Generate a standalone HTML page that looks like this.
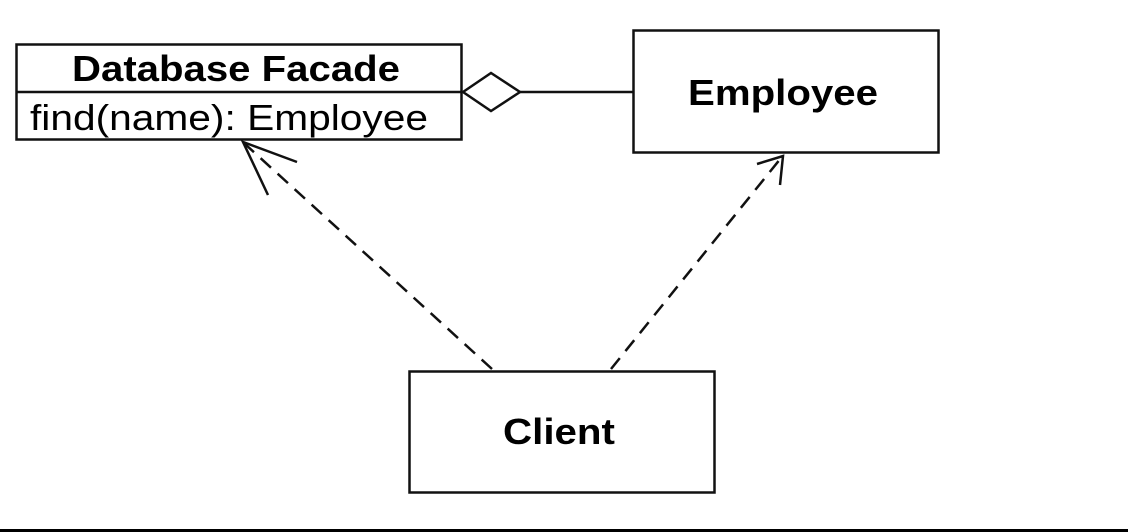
<!DOCTYPE html>
<html><head><style>body{margin:0;background:#fff}svg{display:block}text{font-family:"Liberation Sans",Arial,sans-serif;fill:#000}</style></head><body>
<svg width="1128" height="532" viewBox="0 0 1128 532">
<rect x="0" y="0" width="1128" height="532" fill="#fff"/>
<rect x="16.5" y="44.5" width="445" height="95" fill="#fff" stroke="#111" stroke-width="2.5"/>
<line x1="16" y1="92" x2="462" y2="92" stroke="#111" stroke-width="2.5"/>
<text x="72" y="81" font-size="36" font-weight="bold" textLength="328" lengthAdjust="spacingAndGlyphs">Database Facade</text>
<text x="30" y="130" font-size="36" textLength="398" lengthAdjust="spacingAndGlyphs">find(name): Employee</text>
<polygon points="463,92 491,73 520,92 491,111" fill="#fff" stroke="#111" stroke-width="2.5"/>
<line x1="520" y1="92" x2="633" y2="92" stroke="#111" stroke-width="2.5"/>
<rect x="633.5" y="30.5" width="305" height="122" fill="#fff" stroke="#111" stroke-width="2.5"/>
<text x="688" y="105" font-size="36" font-weight="bold" textLength="190" lengthAdjust="spacingAndGlyphs">Employee</text>
<rect x="409.5" y="371.5" width="305" height="121" fill="#fff" stroke="#111" stroke-width="2.5"/>
<text x="503" y="444" font-size="36" font-weight="bold" textLength="112" lengthAdjust="spacingAndGlyphs">Client</text>
<line x1="492" y1="369" x2="245" y2="144" stroke="#111" stroke-width="2.5" stroke-dasharray="14,9"/>
<polyline points="297,162 243,142 268,195" fill="none" stroke="#111" stroke-width="2.5"/>
<line x1="611" y1="369" x2="781" y2="158" stroke="#111" stroke-width="2.5" stroke-dasharray="14,9"/>
<polyline points="757,164 783,156 780,185" fill="none" stroke="#111" stroke-width="2.5"/>
<rect x="0" y="529" width="1128" height="3" fill="#000"/>
</svg>
</body></html>
